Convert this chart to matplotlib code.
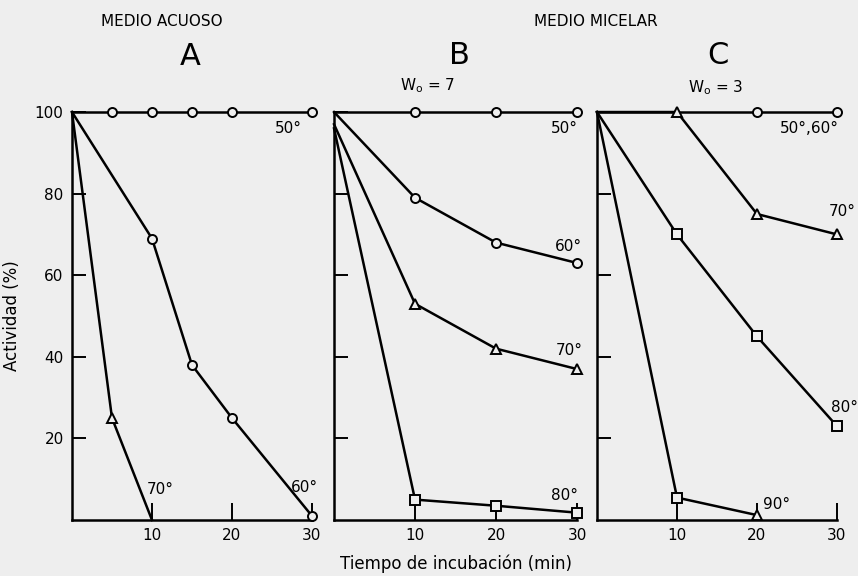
import matplotlib
matplotlib.use("Agg")
import matplotlib.pyplot as plt

# Panel A (medio acuoso)
a50_t = [0, 5, 10, 15, 20, 30]
a50_v = [100, 100, 100, 100, 100, 100]
a60_t = [0, 10, 15, 20, 30]
a60_v = [100, 69, 38, 25, 1]
a70_t = [0, 5, 10]
a70_v = [100, 25, 0]

# Panel B (medio micelar, Wo = 7)
b50_t = [0, 10, 20, 30]
b50_v = [100, 100, 100, 100]
b60_t = [0, 10, 20, 30]
b60_v = [100, 79, 68, 63]
b70_t = [0, 10, 20, 30]
b70_v = [97, 53, 42, 37]
b80_t = [0, 10, 20, 30]
b80_v = [96, 5, 3.5, 1.8]

# Panel C (medio micelar, Wo = 3)
c50_t = [0, 10, 20, 30]
c50_v = [100, 100, 100, 100]
c70_t = [0, 10, 20, 30]
c70_v = [100, 100, 75, 70]
c80_t = [0, 10, 20, 30]
c80_v = [100, 70, 45, 23]
c90_t = [0, 10, 20]
c90_v = [100, 5.5, 1.2]

x_ticks = [10, 20, 30]
y_ticks = [20, 40, 60, 80, 100]

bg = "#eeeeee"
fig = plt.figure(figsize=(8.58, 5.76), dpi=100, facecolor=bg)
plt.rcParams["font.family"] = ["DejaVu Sans"]

bottom, height = 0.0972, 0.7083
axA = fig.add_axes([0.0839, bottom, 0.2797, height])
axB = fig.add_axes([0.3893, bottom, 0.2832, height])
axC = fig.add_axes([0.6958, bottom, 0.2797, height])

kw = dict(color="black", lw=1.8, mfc=bg, mec="black", mew=1.4, ms=6.5,
          clip_on=False, zorder=3)


def series(ax, t, v, markers):
    ax.plot(t, v, "-", color="black", lw=1.8, clip_on=False, zorder=2)
    for ti, vi, m in zip(t, v, markers):
        if m:
            ax.plot([ti], [vi], m, **kw)


series(axA, a50_t, a50_v, [None, "o", "o", "o", "o", "o"])
series(axA, a60_t, a60_v, [None, "o", "o", "o", "o"])
series(axA, a70_t, a70_v, [None, "^", None])

series(axB, b50_t, b50_v, [None, "o", "o", "o"])
series(axB, b60_t, b60_v, [None, "o", "o", "o"])
series(axB, b70_t, b70_v, [None, "^", "^", "^"])
series(axB, b80_t, b80_v, [None, "s", "s", "s"])

series(axC, c50_t, c50_v, [None, None, "o", "o"])
series(axC, c70_t, c70_v, [None, "^", "^", "^"])
series(axC, c80_t, c80_v, [None, "s", "s", "s"])
series(axC, c90_t, c90_v, [None, "s", "^"])

for ax in (axA, axB, axC):
    ax.set_facecolor(bg)
    ax.set_xlim(0, 30)
    ax.set_ylim(0, 100)
    for s in ("top", "right"):
        ax.spines[s].set_visible(False)
    for s in ("left", "bottom"):
        ax.spines[s].set_linewidth(1.8)
    ax.set_xticks(x_ticks)
    ax.set_xticklabels([str(t) for t in x_ticks])
    ax.set_yticks(y_ticks)
    ax.tick_params(axis="both", direction="in", length=12, width=1.4,
                   labelsize=11, pad=6)
    ax.tick_params(axis="y", length=10)

axA.set_yticklabels([str(t) for t in y_ticks])
axB.set_yticklabels([])
axC.set_yticklabels([])
axA.set_ylabel("Actividad (%)", fontsize=12, labelpad=10)

# curve labels
lab = dict(fontsize=11, ha="center", va="center")
axA.text(27, 96, "50°", **lab)
axA.text(11, 7.5, "70°", **lab)
axA.text(29, 8, "60°", **lab)
axB.text(28.5, 96, "50°", **lab)
axB.text(29, 67, "60°", **lab)
axB.text(29, 41.5, "70°", **lab)
axB.text(28.5, 6, "80°", **lab)
axC.text(26.5, 96, "50°,60°", **lab)
axC.text(30.7, 75.5, "70°", **lab)
axC.text(30.9, 27.5, "80°", **lab)
axC.text(22.5, 3.7, "90°", **lab)

# headings
fig.text(0.189, 0.962, "MEDIO ACUOSO", fontsize=11, ha="center", va="center")
fig.text(0.695, 0.962, "MEDIO MICELAR", fontsize=11, ha="center", va="center")
fig.text(0.222, 0.902, "A", fontsize=22, ha="center", va="center")
fig.text(0.535, 0.904, "B", fontsize=22, ha="center", va="center")
fig.text(0.837, 0.904, "C", fontsize=22, ha="center", va="center")
fig.text(0.498, 0.851, "W$_\\mathregular{o}$ = 7", fontsize=11, ha="center", va="center")
fig.text(0.834, 0.847, "W$_\\mathregular{o}$ = 3", fontsize=11, ha="center", va="center")
fig.text(0.531, 0.022, "Tiempo de incubación (min)", fontsize=12,
         ha="center", va="center")

fig.savefig("out.png", dpi=100, facecolor=bg)
